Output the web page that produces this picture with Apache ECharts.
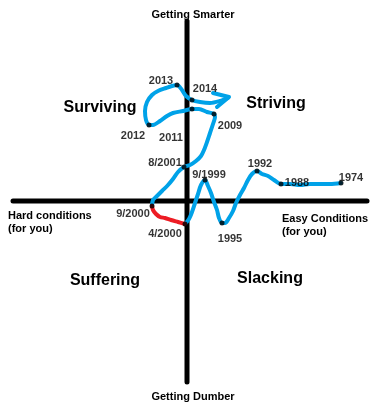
<!DOCTYPE html>
<html>
<head>
<meta charset="utf-8">
<script src="https://cdn.jsdelivr.net/npm/echarts@6/dist/echarts.min.js"></script>
<style>
html,body{margin:0;padding:0;background:#fff;}
#c{width:384px;height:410px;}
</style>
</head>
<body>
<div id="c"></div>
<script>
// Conceptual axes: x = conditions (negative = hard, positive = easy),
// y = learning (positive = getting smarter, negative = getting dumber)
var xAxisExtent = [-174, 180];
var yAxisExtent = [-181, 180];

// Years / milestones marked with dots
var milestoneNames = ['1974','1988','1992','1995','9/1999','4/2000','9/2000','8/2001','2009','2011','2012','2013','2014'];
var milestoneX = [154, 94, 70, 35, 18, -2, -35, -3, 27, 5, -38, -10, 5];
var milestoneY = [18, 17, 30, -22, 21, -23, -5, 34, 87, 92, 76, 116, 101];

// Trajectory 1974 -> 4/2000 (blue)
var pathEarly = [
  [154,18],[143,17],[133,17],[123,17],[113,16],[103,17],[94,17],[87,21],[81,25],[75,27],[70,30],
  [65,27],[61,21],[57,13],[53,6],[49,-2],[46,-10],[42,-17],[38,-22],[35,-22],
  [32,-17],[30,-9],[27,-1],[24,8],[21,15],[18,21],
  [14,16],[11,7],[8,-2],[5,-11],[2,-18],[-2,-23]
];
// Trajectory 4/2000 -> 9/2000 (red)
var pathCrisis = [
  [-2,-23],[-9,-21],[-16,-19],[-22,-17],[-27,-16],[-31,-13],[-34,-9],[-35,-5]
];
// Trajectory 9/2000 -> 2014 and onward (blue)
var pathLate = [
  [-35,-5],[-34,1],[-30,5],[-25,10],[-19,16],[-14,22],[-9,29],[-3,34],
  [3,36],[9,40],[14,45],[17,51],[20,59],[23,68],[26,77],[28,84],[27,87],
  [20,89],[12,92],[5,92],[-4,90],[-14,88],[-20,85],[-27,80],[-34,76],[-38,76],
  [-41,81],[-42,90],[-40,99],[-35,106],[-29,110],[-21,113],[-15,115],[-10,116],
  [-5,111],[-1,105],[5,101],[13,99],[23,98],[33,100],[41,103]
];
var arrowHead = [[26,108],[42,104],[30,94]];

var quadrantNames = ['Surviving','Striving','Suffering','Slacking'];
var axisTitles = ['Getting Smarter','Getting Dumber','Hard conditions\n(for you)','Easy Conditions\n(for you)'];

// label offsets (layout only)
var labelOffsets = [[10,-5],[16,-1],[3,-7],[8,16],[4,-5],[-20,10],[-19,8],[-19,-4],[16,12],[-21,29],[-16,11],[-16,-4],[13,-11]];

var BLUE = '#00A2E8', RED = '#ED1C24';
var FONT = '"Liberation Sans", Arial, sans-serif';

var chart = echarts.init(document.getElementById('c'), null, {renderer:'canvas'});

var dots = milestoneNames.map(function(n,i){
  return {
    value:[milestoneX[i], milestoneY[i]], name:n,
    label:{show:true, formatter:n, position:'inside', offset:labelOffsets[i],
      color:'#000', fontFamily:FONT, fontWeight:'bold', fontSize:11}
  };
});

function lineSeries(data, color, width, smooth, z){
  return {
    type:'line', data:data, showSymbol:false, symbol:'none', smooth:smooth, z:z,
    lineStyle:{color:color, width:width, cap:'round', join:'round'},
    silent:true, animation:false
  };
}

function txt(t, x, y, size, align, vAlign){
  return {type:'text', style:{text:t, x:x, y:y, lineHeight:13, align:align||'center',
    verticalAlign:vAlign||'middle', fill:'#000', font:'bold '+size+'px '+FONT}};
}

var option = {
  animation:false,
  grid:{left:0,right:0,top:0,bottom:0},
  xAxis:{type:'value', min:-187, max:197, show:false},
  yAxis:{type:'value', min:-209, max:201, show:false},
  series:[
    lineSeries([[xAxisExtent[0],0],[xAxisExtent[1],0]], '#000', 5, false, 1),
    lineSeries([[0,yAxisExtent[0]],[0,yAxisExtent[1]]], '#000', 5, false, 1),
    lineSeries(pathEarly, BLUE, 4, 0.3, 2),
    lineSeries(pathLate, BLUE, 4, 0.3, 2),
    lineSeries(pathCrisis, RED, 4, 0.3, 3),
    lineSeries(arrowHead, BLUE, 4, false, 2),
    {
      type:'scatter', data:dots, symbol:'circle', symbolSize:5, z:5,
      itemStyle:{color:'#000'}, silent:true, animation:false
    }
  ],
  graphic:[
    txt(axisTitles[0], 193, 15, 11),
    txt(axisTitles[1], 193, 397, 11),
    txt(axisTitles[2], 8, 209, 11, 'left', 'top'),
    txt(axisTitles[3], 282, 212, 11, 'left', 'top'),
    txt(quadrantNames[0], 100, 108, 16),
    txt(quadrantNames[1], 276, 104, 16),
    txt(quadrantNames[2], 105, 281, 16),
    txt(quadrantNames[3], 270, 279, 16)
  ]
};
chart.setOption(option);
</script>
</body>
</html>
